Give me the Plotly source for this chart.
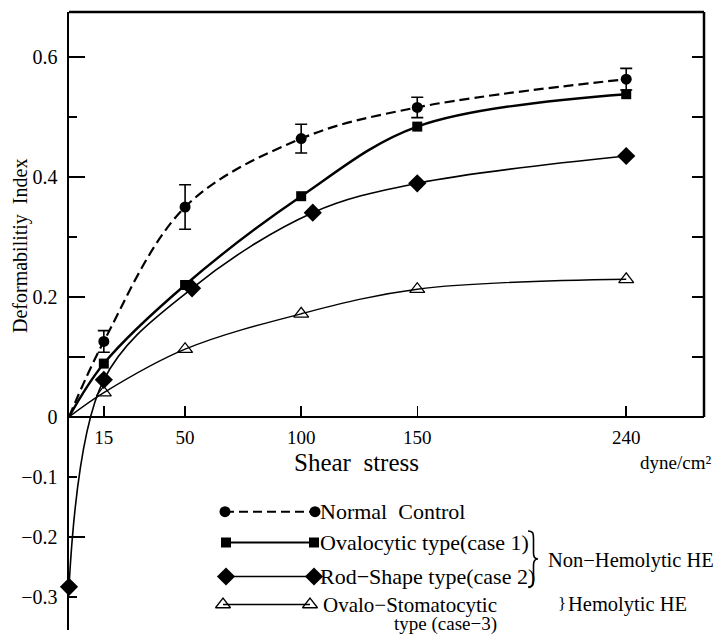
import plotly.graph_objects as go

# ---------------- data ----------------
SHEAR = [15, 50, 100, 150, 240]
NORMAL = [0.126, 0.350, 0.464, 0.516, 0.563]
NORMAL_ERR = [0.018, 0.037, 0.024, 0.017, 0.018]
OVALOCYTIC = [0.089, 0.220, 0.368, 0.484, 0.538]
ROD_SHEAR = [15, 53, 105, 150, 240]
ROD = [0.062, 0.2145, 0.3405, 0.3895, 0.435]
ROD_AT_REST = -0.283
STOMA = [0.0405, 0.113, 0.172, 0.213, 0.2295]

X_TICKS = [15, 50, 100, 150, 240]
Y_TICKS = [0.6, 0.4, 0.2, 0, -0.1, -0.2, -0.3]
Y_TICK_TEXT = ["0.6", "0.4", "0.2", "0", "\u22120.1", "\u22120.2", "\u22120.3"]
Y_LONG_TICKS = [0.6, 0.4, 0.2, 0.1, -0.2]
Y_SHORT_TICKS = [0.5, 0.3, -0.1, -0.3]
Y_RIGHT_TICKS = [0.1, 0.2, 0.3, 0.4, 0.5, 0.6]

LEGEND_NAMES = ["Normal  Control", "Ovalocytic type(case 1)",
                "Rod\u2212Shape type(case 2)", "Ovalo\u2212Stomatocytic"]

# ---------------- layout geometry ----------------
W, H = 714, 634
ML, MR, MT, MB = 69, 10, 12, 4   # screen pixels of the plot area edges
PW, PH = W - ML - MR, H - MT - MB
X_RANGE = [0, 273.5]
Y_TOP = 0.675
Y_PER_PX = 1 / 600
Y_RANGE = [Y_TOP - PH * Y_PER_PX, Y_TOP]
FONT = "Liberation Serif"


def px(xp):
    return (xp - ML) / PW


def py(yp):
    return 1 - (yp - MT) / PH


fig = go.Figure()

# Normal control (dashed, from origin)
fig.add_trace(go.Scatter(x=[0] + SHEAR, y=[0] + NORMAL, mode="lines",
                         line=dict(color="black", width=2.2, dash="10px,5px",
                                   shape="spline", smoothing=1.0),
                         showlegend=False, hoverinfo="skip"))
fig.add_trace(go.Scatter(x=SHEAR, y=NORMAL, mode="markers",
                         marker=dict(symbol="circle", size=11, color="black"),
                         error_y=dict(type="data", array=NORMAL_ERR, color="black",
                                      thickness=1.6, width=6),
                         showlegend=False))

# Ovalocytic (thick solid, from origin)
fig.add_trace(go.Scatter(x=[0] + SHEAR, y=[0] + OVALOCYTIC, mode="lines",
                         line=dict(color="black", width=2.4, shape="spline", smoothing=1.0),
                         showlegend=False, hoverinfo="skip"))
fig.add_trace(go.Scatter(x=SHEAR, y=OVALOCYTIC, mode="markers",
                         marker=dict(symbol="square", size=10, color="black"),
                         showlegend=False))

# Rod-shape (from the value at rest)
fig.add_trace(go.Scatter(x=[0] + ROD_SHEAR, y=[ROD_AT_REST] + ROD, mode="lines",
                         line=dict(color="black", width=1.6, shape="spline", smoothing=1.0),
                         showlegend=False, hoverinfo="skip", cliponaxis=False))
fig.add_trace(go.Scatter(x=[0] + ROD_SHEAR, y=[ROD_AT_REST] + ROD, mode="markers",
                         marker=dict(symbol="diamond", size=14, color="black"),
                         showlegend=False, cliponaxis=False))

# Ovalo-stomatocytic (thin solid, from origin)
fig.add_trace(go.Scatter(x=[0] + SHEAR, y=[0] + STOMA, mode="lines",
                         line=dict(color="black", width=1.4, shape="spline", smoothing=1.0),
                         showlegend=False, hoverinfo="skip"))
fig.add_trace(go.Scatter(x=SHEAR, y=STOMA, mode="markers",
                         marker=dict(symbol="triangle-up-open", size=13, color="black",
                                     line=dict(width=1.3, color="black")),
                         showlegend=False))

# dummy traces so the extra tick axes are drawn
fig.add_trace(go.Scatter(x=[None], y=[None], yaxis="y2", showlegend=False, hoverinfo="skip"))
fig.add_trace(go.Scatter(x=[None], y=[None], yaxis="y3", showlegend=False, hoverinfo="skip"))

# ---------------- hand-made legend (on a hidden 0..1 axis pair) ----------------
rows_y = [511.7, 542.5, 576.5, 604.5]
leg_styles = [
    dict(line=dict(color="black", width=2, dash="9px,5px"),
         marker=dict(symbol="circle", size=11, color="black"), x=(225, 315)),
    dict(line=dict(color="black", width=2.2),
         marker=dict(symbol="square", size=10, color="black"), x=(226, 314)),
    dict(line=dict(color="black", width=1.6),
         marker=dict(symbol="diamond", size=14, color="black"), x=(226, 314)),
    dict(line=dict(color="black", width=1.3),
         marker=dict(symbol="triangle-up-open", size=13, color="black",
                     line=dict(width=1.3, color="black")), x=(223, 310)),
]
for ry, st in zip(rows_y, leg_styles):
    fig.add_trace(go.Scatter(x=[px(st["x"][0]), px(st["x"][1])], y=[py(ry), py(ry)],
                             mode="lines+markers", line=st["line"], marker=st["marker"],
                             xaxis="x2", yaxis="y4", showlegend=False, hoverinfo="skip",
                             cliponaxis=False))

LEG_SIZE = 22
annotations = []
text_x = [318, 318, 318, 321]
text_size = [LEG_SIZE, LEG_SIZE, LEG_SIZE, 21]
for name, ry, tx, ts in zip(LEGEND_NAMES, rows_y, text_x, text_size):
    annotations.append(dict(x=px(tx), y=py(ry), xref="paper", yref="paper", text=name,
                            showarrow=False, xanchor="left", yanchor="middle",
                            font=dict(family=FONT, size=ts, color="black")))
annotations.append(dict(x=px(392), y=py(623.5), xref="paper", yref="paper",
                        text="type (case\u22123)", showarrow=False, xanchor="left",
                        yanchor="middle", font=dict(family=FONT, size=19, color="black")))
annotations.append(dict(x=px(546), y=py(560), xref="paper", yref="paper",
                        text="Non\u2212Hemolytic HE", showarrow=False, xanchor="left",
                        yanchor="middle", font=dict(family=FONT, size=20.5, color="black")))
annotations.append(dict(x=px(556), y=py(603.5), xref="paper", yref="paper",
                        text="}", showarrow=False, xanchor="left",
                        yanchor="middle", font=dict(family=FONT, size=17, color="black")))
annotations.append(dict(x=px(566), y=py(604.5), xref="paper", yref="paper",
                        text="Hemolytic HE", showarrow=False, xanchor="left",
                        yanchor="middle", font=dict(family=FONT, size=20.5, color="black")))
# axis titles
annotations.append(dict(x=px(356), y=py(462), xref="paper", yref="paper",
                        text="Shear  stress", showarrow=False, xanchor="center",
                        yanchor="middle", font=dict(family=FONT, size=25, color="black")))
annotations.append(dict(x=px(713), y=py(462), xref="paper", yref="paper",
                        text="dyne/cm\u00b2", showarrow=False, xanchor="right",
                        yanchor="middle", font=dict(family=FONT, size=19, color="black")))
annotations.append(dict(x=px(20), y=py(246), xref="paper", yref="paper",
                        text="Deformabilitiy  Index", showarrow=False, textangle=-90,
                        xanchor="center", yanchor="middle",
                        font=dict(family=FONT, size=20, color="black")))


def brace_path(x, y0, y1, depth):
    ym = (y0 + y1) / 2
    pts = [
        ("M", [(x, y0)]),
        ("C", [(x + depth * 0.55, y0), (x + depth * 0.55, y0 + 3), (x + depth * 0.55, y0 + 8)]),
        ("L", [(x + depth * 0.55, ym - 6)]),
        ("C", [(x + depth * 0.55, ym - 1), (x + depth * 0.75, ym), (x + depth, ym)]),
        ("C", [(x + depth * 0.75, ym), (x + depth * 0.55, ym + 1), (x + depth * 0.55, ym + 6)]),
        ("L", [(x + depth * 0.55, y1 - 8)]),
        ("C", [(x + depth * 0.55, y1 - 3), (x + depth * 0.55, y1), (x, y1)]),
    ]
    s = ""
    for cmd, coords in pts:
        s += cmd + " " + " ".join(f"{px(a):.5f},{py(b):.5f}" for a, b in coords) + " "
    return s.strip()


shapes = [
    # top frame line
    dict(type="line", xref="paper", yref="paper", x0=0, x1=1, y0=1, y1=1,
         line=dict(color="black", width=2.5)),
    # right frame line (from the x axis up)
    dict(type="line", xref="paper", yref="y", x0=1, x1=1, y0=0, y1=Y_RANGE[1],
         line=dict(color="black", width=2.5)),
    # brace for Non-Hemolytic HE
    dict(type="path", xref="paper", yref="paper", path=brace_path(528, 531, 587, 10),
         line=dict(color="black", width=1.6)),
]

x_pos = (0 - Y_RANGE[0]) / (Y_RANGE[1] - Y_RANGE[0])

fig.update_layout(
    width=W, height=H,
    margin=dict(l=ML, r=MR, t=MT, b=MB, pad=0),
    paper_bgcolor="white", plot_bgcolor="white",
    font=dict(family=FONT, color="black"),
    showlegend=False,
    xaxis=dict(range=X_RANGE, anchor="free", position=x_pos, showline=True,
               linecolor="black", linewidth=2.2, ticks="inside", ticklen=10,
               tickwidth=1.5, tickcolor="black", tickvals=X_TICKS,
               tickfont=dict(family=FONT, size=19, color="black"),
               showgrid=False, zeroline=False, ticklabelstandoff=3),
    yaxis=dict(range=Y_RANGE, showline=True, linecolor="black", linewidth=2.5,
               ticks="", tickvals=Y_TICKS, ticktext=Y_TICK_TEXT,
               tickfont=dict(family=FONT, size=20, color="black"),
               showgrid=False, zeroline=False, ticklabelstandoff=5),
    yaxis2=dict(range=Y_RANGE, overlaying="y", side="right", anchor="x",
                showline=False, ticks="inside", ticklen=12, tickwidth=1.5,
                tickcolor="black", tickvals=Y_RIGHT_TICKS, showticklabels=False,
                showgrid=False, zeroline=False),
    yaxis3=dict(range=Y_RANGE, overlaying="y", side="left", anchor="x",
                showline=False, ticks="inside", ticklen=16, tickwidth=1.5,
                tickcolor="black", tickvals=Y_LONG_TICKS, showticklabels=False,
                showgrid=False, zeroline=False,
                minor=dict(tickvals=Y_SHORT_TICKS, ticks="inside", ticklen=8,
                           tickwidth=1.5, tickcolor="black", showgrid=False)),
    xaxis2=dict(range=[0, 1], overlaying="x", visible=False),
    yaxis4=dict(range=[0, 1], overlaying="y", anchor="x2", visible=False),
    annotations=annotations,
    shapes=shapes,
)

# the page body has a default 8px margin; remove it so the figure fills the window
fig.write_html("out.html",
               config={"displayModeBar": False, "staticPlot": True},
               post_script="document.body.style.margin='0';"
                           "document.body.style.overflow='hidden';")
